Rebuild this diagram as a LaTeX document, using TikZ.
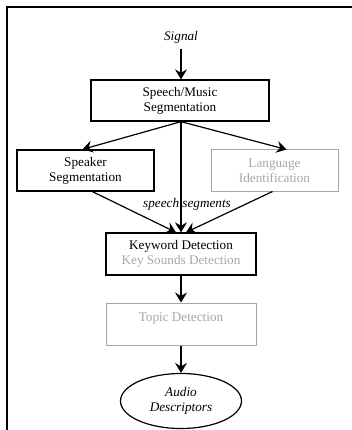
\documentclass[tikz,border=0pt]{standalone}
\usepackage{fontspec}
\setmainfont{Liberation Serif}
\usetikzlibrary{arrows.meta,shapes.geometric}
\definecolor{faded}{gray}{0.65}

\begin{document}
\begin{tikzpicture}[x=1pt,y=-1pt,
    font=\fontsize{13.2}{15}\selectfont,
    stage/.style={draw,line width=1.3pt,inner sep=0pt,align=center},
    fadedstage/.style={stage,draw=faded,text=faded,line width=1pt},
    flow/.style={line width=1.2pt,-{Stealth[length=10pt,width=12pt,inset=3.5pt]}}]
    \useasboundingbox (0,0) rectangle (352,430);
    \draw[line width=2pt] (7,430) -- (7,7) -- (352,7);
    \node[font=\fontsize{13.2}{15}\selectfont\itshape] (sig) at (181,37) {Signal};
    \node[stage,minimum width=178pt,minimum height=41pt] (sm) at (180,100.5) {Speech/Music\\Segmentation};
    \node[stage,minimum width=137pt,minimum height=41pt] (spk) at (85.5,170.5) {Speaker\\Segmentation};
    \node[fadedstage,minimum width=127pt,minimum height=41pt] (lang) at (274.5,170.5) {Language\\Identification};
    \node[stage,minimum width=150pt,minimum height=42pt] (kw) at (181,254) {Keyword Detection\\\textcolor{faded}{Key Sounds Detection}};
    \node[fadedstage,minimum width=150pt,minimum height=42pt,text height=9.5pt,text depth=14.5pt] (topic) at (181,324) {Topic Detection};
    \node[draw,ellipse,line width=1.2pt,inner sep=0pt,minimum width=121pt,minimum height=55pt,align=center,
          font=\fontsize{13.2}{15}\selectfont\itshape] (desc) at (181,401) {Audio\\Descriptors};
    % arrows
    \draw[flow] (sig.south) ++(0,2) -- (sm.north -| sig);
    \draw[flow] ([xshift=1pt]sm.south) -- ([xshift=-3pt]spk.north);
    \draw[flow] ([xshift=1pt]sm.south) -- ([xshift=12pt]lang.north);
    \draw[flow] ([xshift=7pt]spk.south) -- ([xshift=-5pt]kw.north);
    \draw[flow] ([xshift=-2pt]lang.south) -- ([xshift=5pt]kw.north);
    \draw[flow] ([xshift=1pt]sm.south) -- node[pos=0.75,xshift=6pt,font=\fontsize{13.2}{15}\selectfont\itshape] (seg) {speech segments} (kw.north);
    \draw[flow] (kw.south) -- (topic.north);
    \draw[flow] (topic.south) -- (desc.north);
\end{tikzpicture}
\end{document}
